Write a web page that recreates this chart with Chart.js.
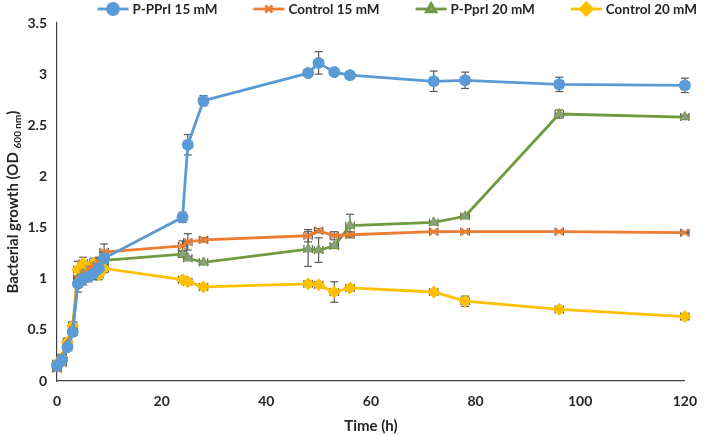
<!DOCTYPE html>
<html><head><meta charset="utf-8">
<script src="https://cdn.jsdelivr.net/npm/chart.js@4.4.1/dist/chart.umd.min.js"></script>
<style>html,body{margin:0;padding:0;background:#fff;}#wrap{width:709px;height:435px;position:relative;}</style>
</head><body><div id="wrap"><canvas id="c"></canvas></div>
<script>
// ---- data ----
const times = [0,1,2,3,4,5,6,7,8,9,24,25,28,48,50,53,56,72,78,96,120];
const seriesNames = ['P-PPrI 15 mM','Control 15 mM','P-PprI 20 mM','Control 20 mM'];
const ppri15   = [0.15,0.21,0.33,0.48,0.95,1.00,1.02,1.05,1.10,1.20,1.60,2.31,2.74,3.01,3.11,3.02,2.99,2.93,2.94,2.90,2.89];
const ppri15Err= [0.02,0.03,0.03,0.04,0.08,0.06,0.05,0.06,0.06,0.06,0.05,0.10,0.05,0.02,0.11,0.02,0.02,0.10,0.08,0.07,0.07];
const ctrl15   = [0.12,0.18,0.35,0.50,1.00,1.05,1.10,1.12,1.15,1.26,1.32,1.36,1.38,1.42,1.47,1.42,1.43,1.46,1.46,1.46,1.45];
const ctrl15Err= [0.02,0.03,0.03,0.04,0.08,0.06,0.06,0.06,0.06,0.08,0.05,0.08,0.02,0.06,0.02,0.04,0.03,0.01,0.01,0.01,0.01];
const ppri20   = [0.15,0.22,0.36,0.50,1.00,1.05,1.08,1.12,1.15,1.18,1.24,1.20,1.16,1.29,1.28,1.32,1.52,1.55,1.61,2.61,2.58];
const ppri20Err= [0.02,0.03,0.03,0.04,0.08,0.06,0.05,0.05,0.05,0.05,0.03,0.02,0.01,0.17,0.12,0.02,0.11,0.01,0.02,0.04,0.02];
const ctrl20   = [0.17,0.23,0.38,0.54,1.09,1.15,1.10,1.15,1.04,1.10,0.99,0.97,0.92,0.95,0.94,0.87,0.91,0.87,0.78,0.70,0.63];
const ctrl20Err= [0.02,0.03,0.04,0.04,0.08,0.06,0.05,0.05,0.05,0.04,0.02,0.02,0.02,0.01,0.02,0.10,0.02,0.02,0.05,0.02,0.03];
const timeErr = 0.8;
const xTicks = [0,20,40,60,80,100,120];
const yTicks = [0,0.5,1,1.5,2,2.5,3,3.5];
const xTitle = 'Time (h)';
const yTitleMain = 'Bacterial growth (OD';
const yTitleSub = '600 nm';
const yTitleEnd = ')';

const FONT = 'Lato, "Open Sans", sans-serif';
const styles = [
  {line:'#5B9BD5', fill:'#5B9BD5', border:'#5B9BD5', point:'circle', r:5.5, bw:1},
  {line:'#ED7D31', fill:'#ED7D31', border:'#ED7D31', point:'crossRot', r:5, bw:1.6},
  {line:'#6F9A40', fill:'#8E9F7E', border:'#6F9A40', point:'triangle', r:5.5, bw:1},
  {line:'#FFC000', fill:'#FFC000', border:'#FFC000', point:'rectRot', r:6, bw:1}
];
const vals = [ppri15, ctrl15, ppri20, ctrl20];
const errs = [ppri15Err, ctrl15Err, ppri20Err, ctrl20Err];

const datasets = seriesNames.map((n,i)=>({
  label:n,
  data: times.map((t,j)=>({x:t, y:vals[i][j]})),
  errY: errs[i],
  borderColor: styles[i].line,
  borderWidth: 2.8,
  backgroundColor: styles[i].fill,
  pointBackgroundColor: styles[i].fill,
  pointBorderColor: styles[i].border,
  pointBorderWidth: styles[i].bw,
  pointStyle: styles[i].point,
  pointRadius: styles[i].r,
  pointHoverRadius: styles[i].r,
  tension: 0,
  clip: false
}));

const errPlugin = {
  id:'errbars',
  beforeDatasetsDraw(chart){
    const ctx=chart.ctx, xs=chart.scales.x, ys=chart.scales.y;
    ctx.save(); ctx.strokeStyle='#5a5a5a'; ctx.lineWidth=1.2;
    const seg=(a,b,c,d)=>{ctx.beginPath();ctx.moveTo(a,b);ctx.lineTo(c,d);ctx.stroke();};
    chart.data.datasets.forEach(ds=>{
      ds.data.forEach((p,j)=>{
        const e=ds.errY[j];
        const px=xs.getPixelForValue(p.x), py=ys.getPixelForValue(p.y);
        const t=ys.getPixelForValue(p.y+e), b=ys.getPixelForValue(p.y-e);
        seg(px,t,px,b); seg(px-4,t,px+4,t); seg(px-4,b,px+4,b);
        const l=xs.getPixelForValue(p.x-timeErr), r=xs.getPixelForValue(p.x+timeErr);
        seg(l,py,r,py); seg(l,py-4,l,py+4); seg(r,py-4,r,py+4);
      });
    });
    ctx.restore();
  }
};

function drawMarker(ctx, st, x, y){
  Chart.helpers.drawPoint(ctx, {pointStyle:st.point, radius:st.r, borderWidth:st.bw, rotation:0}, x, y);
}

const extrasPlugin = {
  id:'extras',
  afterDraw(chart){
    const ctx=chart.ctx;
    ctx.save();
    // legend
    ctx.font = 'bold 13.5px '+FONT;
    ctx.textBaseline='middle'; ctx.textAlign='left';
    const lineW=31, gapTxt=4, gapItem=36, ly=9;
    const widths = seriesNames.map(n=>lineW+gapTxt+ctx.measureText(n).width);
    const total = widths.reduce((a,b)=>a+b,0)+gapItem*(seriesNames.length-1);
    let x = 697 - total;
    seriesNames.forEach((n,i)=>{
      const st=styles[i];
      ctx.strokeStyle=st.line; ctx.lineWidth=2.8;
      ctx.beginPath(); ctx.moveTo(x,ly); ctx.lineTo(x+lineW,ly); ctx.stroke();
      ctx.fillStyle=st.fill; ctx.strokeStyle=st.border;
      drawMarker(ctx, st, x+lineW/2, ly);
      ctx.fillStyle='#262626';
      ctx.fillText(n, x+lineW+gapTxt, ly+1);
      x += widths[i]+gapItem;
    });
    // y title with subscript
    const ca=chart.chartArea;
    const cy=(ca.top+ca.bottom)/2;
    ctx.translate(13, cy); ctx.rotate(-Math.PI/2);
    const fMain='bold 15px '+FONT, fSub='bold 10px '+FONT;
    ctx.font=fMain; const w1=ctx.measureText(yTitleMain+' ').width, w3=ctx.measureText(yTitleEnd).width;
    ctx.font=fSub; const w2=ctx.measureText(yTitleSub).width;
    let sx=-(w1+w2+w3)/2;
    ctx.fillStyle='#262626'; ctx.textBaseline='alphabetic';
    ctx.font=fMain; ctx.fillText(yTitleMain+' ', sx, 5); sx+=w1;
    ctx.font=fSub; ctx.fillText(yTitleSub, sx, 7.5); sx+=w2;
    ctx.font=fMain; ctx.fillText(yTitleEnd, sx, 5);
    ctx.restore();
  }
};

new Chart(document.getElementById('c'), {
  type:'line',
  data:{datasets},
  plugins:[errPlugin, extrasPlugin],
  options:{
    responsive:true, maintainAspectRatio:false, animation:false,
    layout:{padding:{left:0,right:12,top:23,bottom:0}},
    plugins:{legend:{display:false}, tooltip:{enabled:false}},
    scales:{
      x:{type:'linear', min:0, max:120,
        afterBuildTicks(s){ s.ticks = xTicks.map(v=>({value:v})); },
        afterFit(s){ s.height = 54; },
        grid:{display:false, drawTicks:false},
        border:{display:true, color:'#404040', width:1.2},
        ticks:{padding:12, color:'#262626', font:{family:FONT, size:14, weight:'bold'}, callback:v=>String(v)},
        title:{display:true, text:xTitle, color:'#262626', font:{family:FONT, size:15, weight:'bold'}, padding:{top:2,bottom:0}}
      },
      y:{type:'linear', min:0, max:3.5,
        afterBuildTicks(s){ s.ticks = yTicks.map(v=>({value:v})); },
        afterFit(s){ s.width = 57; },
        grid:{display:false, drawTicks:false},
        border:{display:true, color:'#404040', width:1.2},
        ticks:{padding:10, color:'#262626', font:{family:FONT, size:14, weight:'bold'}, callback:v=>String(v)}
      }
    }
  }
});
</script></body></html>
